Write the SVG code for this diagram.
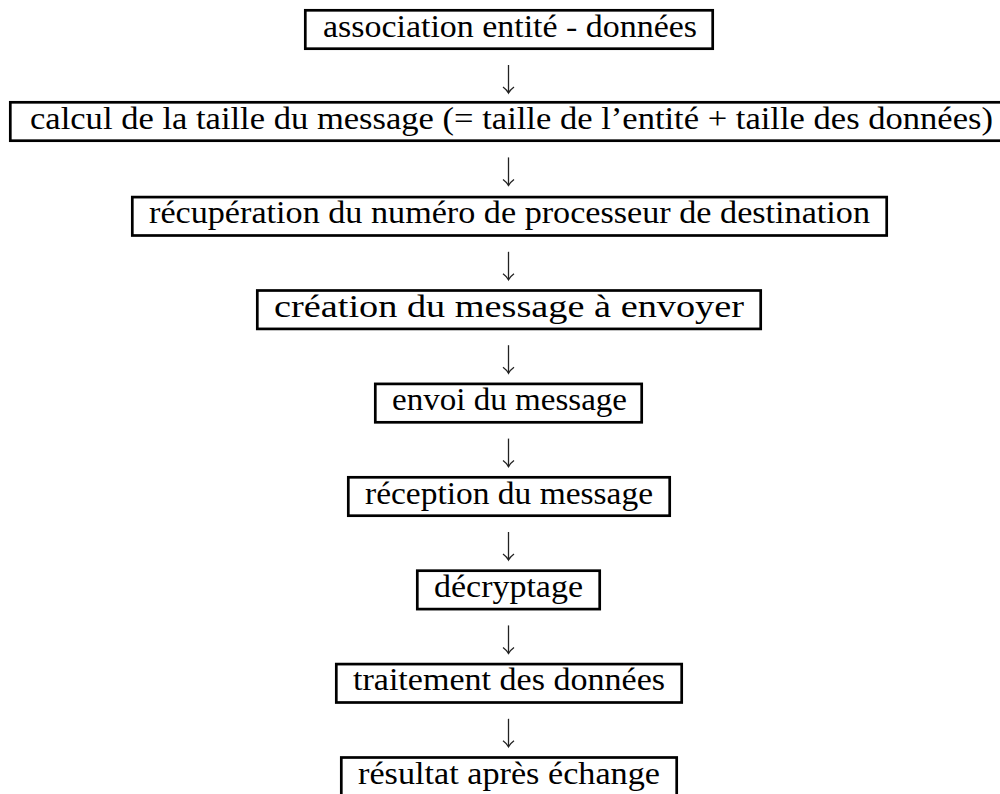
<svg xmlns="http://www.w3.org/2000/svg" width="1000" height="794" viewBox="0 0 1000 794">
<style>
.box{fill:none;stroke:#000;stroke-width:2.7}
.lbl{font-family:"Liberation Serif","Times New Roman",serif;font-size:31px;fill:#000;text-anchor:middle}
.arr{fill:none;stroke:#222;stroke-width:1.3}
</style>
<defs>
<marker id="head" markerUnits="userSpaceOnUse" viewBox="-8 -7 10 14" refX="0" refY="0" markerWidth="10" markerHeight="14" orient="auto" overflow="visible">
<path d="M-6,-5.5 Q-3,-1.5 0,0 Q-3,1.5 -6,5.5" fill="none" stroke="#222" stroke-width="1.3"/>
</marker>
</defs>
<rect width="1000" height="794" fill="#fff"/>
<g id="connectors">
<path class="arr" d="M508.5,65 V93" marker-end="url(#head)"/>
<path class="arr" d="M508.5,157.4 V185.4" marker-end="url(#head)"/>
<path class="arr" d="M508.5,251.8 V279.8" marker-end="url(#head)"/>
<path class="arr" d="M508.5,345.2 V373.2" marker-end="url(#head)"/>
<path class="arr" d="M508.5,438.6 V466.6" marker-end="url(#head)"/>
<path class="arr" d="M508.5,532 V560" marker-end="url(#head)"/>
<path class="arr" d="M508.5,625.4 V653.4" marker-end="url(#head)"/>
<path class="arr" d="M508.5,718.8 V746.8" marker-end="url(#head)"/>
</g>
<g id="n1">
<rect class="box" x="305.3" y="10.3" width="407.4" height="38.4"/>
<text class="lbl" x="510" y="36.5" textLength="374" lengthAdjust="spacingAndGlyphs">association entité - données</text>
</g>
<g id="n2">
<rect class="box" x="10.3" y="102.3" width="1000" height="38.4"/>
<text class="lbl" x="511.5" y="128.5" textLength="963" lengthAdjust="spacingAndGlyphs">calcul de la taille du message (= taille de l’entité + taille des données)</text>
</g>
<g id="n3">
<rect class="box" x="132.3" y="197.1" width="754.4" height="38.4"/>
<text class="lbl" x="509.5" y="223.3" textLength="721" lengthAdjust="spacingAndGlyphs">récupération du numéro de processeur de destination</text>
</g>
<g id="n4">
<rect class="box" x="257.3" y="290.5" width="503.4" height="38.4"/>
<text class="lbl" x="509" y="316.7" textLength="470" lengthAdjust="spacingAndGlyphs">création du message à envoyer</text>
</g>
<g id="n5">
<rect class="box" x="375.3" y="383.9" width="266.4" height="38.4"/>
<text class="lbl" x="509.5" y="410.1" textLength="235" lengthAdjust="spacingAndGlyphs">envoi du message</text>
</g>
<g id="n6">
<rect class="box" x="348.3" y="477.3" width="321.4" height="38.4"/>
<text class="lbl" x="509" y="503.5" textLength="288" lengthAdjust="spacingAndGlyphs">réception du message</text>
</g>
<g id="n7">
<rect class="box" x="417.3" y="570.7" width="182.4" height="38.4"/>
<text class="lbl" x="508.5" y="596.9" textLength="149" lengthAdjust="spacingAndGlyphs">décryptage</text>
</g>
<g id="n8">
<rect class="box" x="336.3" y="664.1" width="345.4" height="38.4"/>
<text class="lbl" x="509" y="690.3" textLength="312" lengthAdjust="spacingAndGlyphs">traitement des données</text>
</g>
<g id="n9">
<rect class="box" x="341.3" y="757.5" width="335.4" height="40"/>
<text class="lbl" x="509" y="783.7" textLength="302" lengthAdjust="spacingAndGlyphs">résultat après échange</text>
</g>
</svg>
